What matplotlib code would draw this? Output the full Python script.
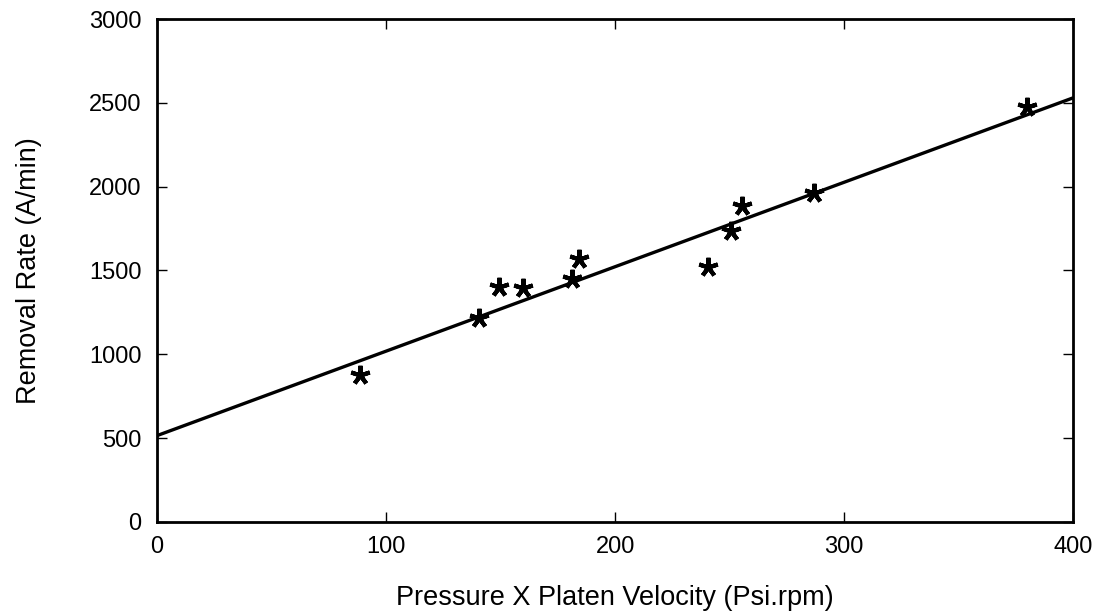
import matplotlib
matplotlib.use("Agg")
import matplotlib.pyplot as plt
import numpy as np

plt.rcParams['font.family'] = ['Liberation Sans', 'DejaVu Sans']

# Data
pv = [88.6, 140.6, 149.3, 159.8, 181.2, 184.3, 240.6, 250.7, 255.5, 286.9, 380.0]
rate = [877, 1216, 1401, 1395, 1449, 1568, 1520, 1735, 1884, 1962, 2475]
fit_x = [0, 400]
fit_y = [515, 2530]
xticks = [0, 100, 200, 300, 400]
yticks = [0, 500, 1000, 1500, 2000, 2500, 3000]

fig = plt.figure(figsize=(10.94, 6.13), dpi=100)
ax = fig.add_axes([0.1435, 0.1485, 0.8375, 0.8205])
ax.plot(fit_x, fit_y, color='black', linewidth=2.4, solid_capstyle='butt')
ax.plot(pv, rate, linestyle='none', marker=(5, 2, 0), markersize=14,
        color='black', markeredgewidth=3)

ax.set_xlim(0, 400)
ax.set_ylim(0, 3000)
ax.set_xticks(xticks)
ax.set_yticks(yticks)
ax.tick_params(direction='in', length=7, width=1, labelsize=17,
               top=True, right=True)
ax.tick_params(axis='y', pad=11)
ax.tick_params(axis='x', pad=10)
for s in ax.spines.values():
    s.set_linewidth(2)
ax.set_xlabel('Pressure X Platen Velocity (Psi.rpm)', fontsize=19.5)
ax.set_ylabel('Removal Rate (A/min)', fontsize=19.5)
ax.xaxis.set_label_coords(0.5, -0.125)
ax.yaxis.set_label_coords(-0.126, 0.5)

fig.savefig('out.png', dpi=100)
